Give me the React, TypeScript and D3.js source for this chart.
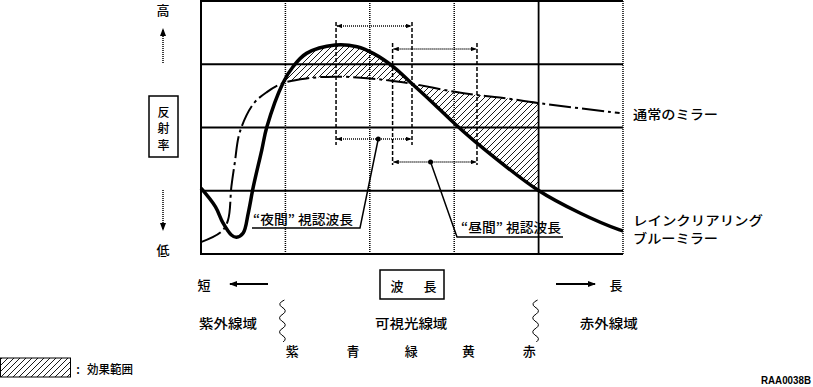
import React from "react";
import * as d3 from "d3";

// wavelength (nm) vs reflectance (%)
const wavelengthDomain: [number, number] = [300, 800];
const reflectDomain: [number, number] = [0, 100];
const dottedGrid = [400, 500, 600];
const solidGrid = [700];
const reflectGrid = [25, 50, 75];

const normalMirror: [number, number][] = [
  [300, 4.7], [324, 8.8], [332, 13.4], [336, 26.6], [340, 36.0], [346, 48.2],
  [362, 59.3], [378, 64.0], [397, 67.5], [425, 69.4], [459, 70.1], [500, 69.4],
  [527, 68.4], [550, 67.3], [599, 64.2], [627, 62.8], [654, 61.9], [699, 59.7],
  [796, 55.7],
];

const blueMirror: [number, number][] = [
  [300, 26.0], [317, 18.7], [326, 12.3], [336, 7.5], [342, 6.6], [350, 8.3],
  [356, 16.2], [362, 26.6], [372, 41.1], [378, 50.2], [397, 67.5], [409, 74.0],
  [425, 79.3], [459, 82.6], [485, 81.9], [504, 79.3], [528, 74.0], [550, 67.3],
  [571, 60.9], [601, 51.4], [631, 42.7], [699, 25.3], [749, 16.2], [796, 9.5],
  [800, 9.1],
];

const effectRange: [number, number] = [397, 700];
const nightRange: [number, number] = [460, 550];
const dayRange: [number, number] = [527, 627];
const nightMark = 510;
const dayMark = 572;

const regionLabels = ["紫外線域", "可視光線域", "赤外線域"];
const regionNm = [332, 549, 783];
const colorLabels = ["紫", "青", "緑", "黄", "赤"];
const colorNm = [408, 480, 549, 617, 689];
const bandEdges = [400, 700];

const FONT = "'Noto Sans CJK JP', 'Noto Sans', sans-serif";

export default function App() {
  const W = 813;
  const H = 387;
  const left = 201, right = 623, top = 1, bottom = 254;

  const x = d3.scaleLinear().domain(wavelengthDomain).range([left, right]);
  const y = d3.scaleLinear().domain(reflectDomain).range([bottom, top]);
  const curve = d3.curveCatmullRom.alpha(0.5);
  const line = d3.line<[number, number]>().x((d) => x(d[0])).y((d) => y(d[1])).curve(curve);
  const under = d3
    .area<[number, number]>()
    .x((d) => x(d[0]))
    .y0(bottom)
    .y1((d) => y(d[1]))
    .curve(curve);
  // XOR of the two "under" areas = the band between the curves
  const between = (under(blueMirror) ?? "") + (under(normalMirror) ?? "");

  const txt = (s: string, tx: number, ty: number, len?: number, anchor = "middle", size = 13) => (
    <text
      x={tx}
      y={ty}
      fontSize={size}
      fontWeight={500}
      textAnchor={anchor}
      dominantBaseline="central"
      fontFamily={FONT}
      {...(len ? { textLength: len, lengthAdjust: "spacingAndGlyphs" } : {})}
    >
      {s}
    </text>
  );

  const bracket = (range: [number, number], yTop: number, yBot: number, aTop: number, aBot: number, mark: number) => {
    const xa = x(range[0]);
    const xb = x(range[1]);
    return (
      <g>
        {[xa, xb].map((v, i) => (
          <line key={i} x1={v} x2={v} y1={yTop} y2={yBot} stroke="#000" strokeWidth={1.5} strokeDasharray="4,2" />
        ))}
        {[aTop, aBot].map((v, i) => (
          <line
            key={"a" + i}
            x1={xa + 1}
            x2={xb - 1}
            y1={v}
            y2={v}
            stroke="#000"
            strokeWidth={1.3}
            strokeDasharray="1,1"
            markerStart="url(#sm)"
            markerEnd="url(#sm)"
          />
        ))}
        <circle cx={x(mark)} cy={aBot} r={2.5} fill="#000" />
      </g>
    );
  };

  const wave = (cx: number) => {
    const p = d3.path();
    const y0 = 300, seg = 7, amp = 3.5;
    p.moveTo(cx + 2, y0);
    for (let i = 0; i < 6; i++) {
      const dir = i % 2 === 0 ? -1 : 1;
      p.quadraticCurveTo(cx + dir * amp * 1.6, y0 + seg * i + seg / 2, cx + dir * amp * 0.2, y0 + seg * (i + 1));
    }
    return p.toString();
  };

  return (
    <svg width={W} height={H} style={{ position: "absolute", left: 0, top: 0, background: "#fff" }}>
      <defs>
        <pattern id="hatch" patternUnits="userSpaceOnUse" width={6} height={6}>
          <path d="M-1,1 l2,-2 M0,6 l6,-6 M5,7 l2,-2" stroke="#000" strokeWidth={0.9} />
        </pattern>
        <clipPath id="eff">
          <rect x={x(effectRange[0])} y={top} width={x(effectRange[1]) - x(effectRange[0])} height={bottom - top} />
        </clipPath>
        <marker id="sm" viewBox="0 0 8 6" refX={7} refY={3} markerWidth={6} markerHeight={4.5} markerUnits="userSpaceOnUse" orient="auto-start-reverse">
          <path d="M0,0 L8,3 L0,6 Z" fill="#000" />
        </marker>
        <marker id="big" viewBox="0 0 8 6" refX={7} refY={3} markerWidth={9} markerHeight={6} markerUnits="userSpaceOnUse" orient="auto">
          <path d="M0,0 L8,3 L0,6 Z" fill="#000" />
        </marker>
      </defs>

      {/* hatched effect area */}
      <path d={between} fill="url(#hatch)" fillRule="evenodd" clipPath="url(#eff)" />

      {/* grid */}
      {reflectGrid.map((v) => (
        <line key={v} x1={left} x2={right} y1={y(v)} y2={y(v)} stroke="#000" strokeWidth={1.8} />
      ))}
      {dottedGrid.map((v) => (
        <line key={v} x1={x(v)} x2={x(v)} y1={top} y2={bottom} stroke="#000" strokeWidth={1.5} strokeDasharray="1,1" />
      ))}
      {solidGrid.map((v) => (
        <line key={v} x1={x(v)} x2={x(v)} y1={top} y2={bottom} stroke="#000" strokeWidth={1.8} />
      ))}
      <path d={`M${right},${top} H${left} V${bottom} H${right}`} fill="none" stroke="#000" strokeWidth={2} />
      <line x1={right} x2={right} y1={top} y2={bottom} stroke="#000" strokeWidth={1.5} strokeDasharray="1,1" />

      {/* brackets */}
      {bracket(nightRange, 22, 145, 26, 139, nightMark)}
      {bracket(dayRange, 43, 165, 49, 162, dayMark)}

      {/* curves */}
      <path d={line(normalMirror) ?? ""} fill="none" stroke="#000" strokeWidth={2} strokeDasharray="22,4,3,4" />
      <path d={line(blueMirror) ?? ""} fill="none" stroke="#000" strokeWidth={3.5} />

      {/* callouts */}
      <path d={`M${x(nightMark)},139 L360,228 H252`} fill="none" stroke="#000" strokeWidth={1.5} />
      {txt("“夜間” 視認波長", 253, 218, 100, "start")}
      <path d={`M${x(dayMark)},162 L457,237 H563`} fill="none" stroke="#000" strokeWidth={1.5} />
      {txt("“昼間” 視認波長", 461, 226, 100, "start")}

      {/* series labels */}
      {txt("通常のミラー", 633, 113, 85, "start")}
      {txt("レインクリアリング", 633, 219, 130, "start")}
      {txt("ブルーミラー", 633, 237, 85, "start")}

      {/* y axis legend */}
      {txt("高", 163, 9)}
      <line x1={163} x2={163} y1={63} y2={29} stroke="#000" strokeWidth={1.5} strokeDasharray="1,1" markerEnd="url(#big)" />
      <rect x={149} y={96} width={29} height={61} fill="none" stroke="#000" strokeWidth={1.5} />
      {txt("反", 163.5, 111, undefined, "middle", 12)}
      {txt("射", 163.5, 127.5, undefined, "middle", 12)}
      {txt("率", 163.5, 144, undefined, "middle", 12)}
      <line x1={163} x2={163} y1={190} y2={230} stroke="#000" strokeWidth={1.5} strokeDasharray="1,1" markerEnd="url(#big)" />
      {txt("低", 163, 249)}

      {/* x axis legend */}
      {txt("短", 204, 284)}
      <line x1={268} x2={230} y1={284} y2={284} stroke="#000" strokeWidth={2} markerEnd="url(#big)" />
      <rect x={380} y={270} width={64} height={29} fill="none" stroke="#000" strokeWidth={1.5} />
      {txt("波", 397, 285)}
      {txt("長", 430, 285)}
      <line x1={556} x2={595} y1={284} y2={284} stroke="#000" strokeWidth={2} markerEnd="url(#big)" />
      {txt("長", 616, 284)}

      {regionLabels.map((s, i) => (
        <g key={s}>{txt(s, x(regionNm[i]), 322, s.length * 14.5)}</g>
      ))}
      {colorLabels.map((s, i) => (
        <g key={s}>{txt(s, x(colorNm[i]), 350)}</g>
      ))}
      {bandEdges.map((b) => (
        <path key={b} d={wave(x(b) - 3)} fill="none" stroke="#000" strokeWidth={1} />
      ))}

      {/* legend */}
      <rect x={0.5} y={358} width={70} height={19} fill="url(#hatch)" stroke="#000" strokeWidth={1} />
      {txt(":", 78, 368, undefined, "middle", 12)}
      {txt("効果範囲", 87, 368, 46, "start", 12)}

      <text x={811} y={384} fontSize={10} fontWeight="bold" textAnchor="end" fontFamily="'Liberation Sans', Arial, sans-serif" textLength={50} lengthAdjust="spacingAndGlyphs">
        RAA0038B
      </text>
    </svg>
  );
}
